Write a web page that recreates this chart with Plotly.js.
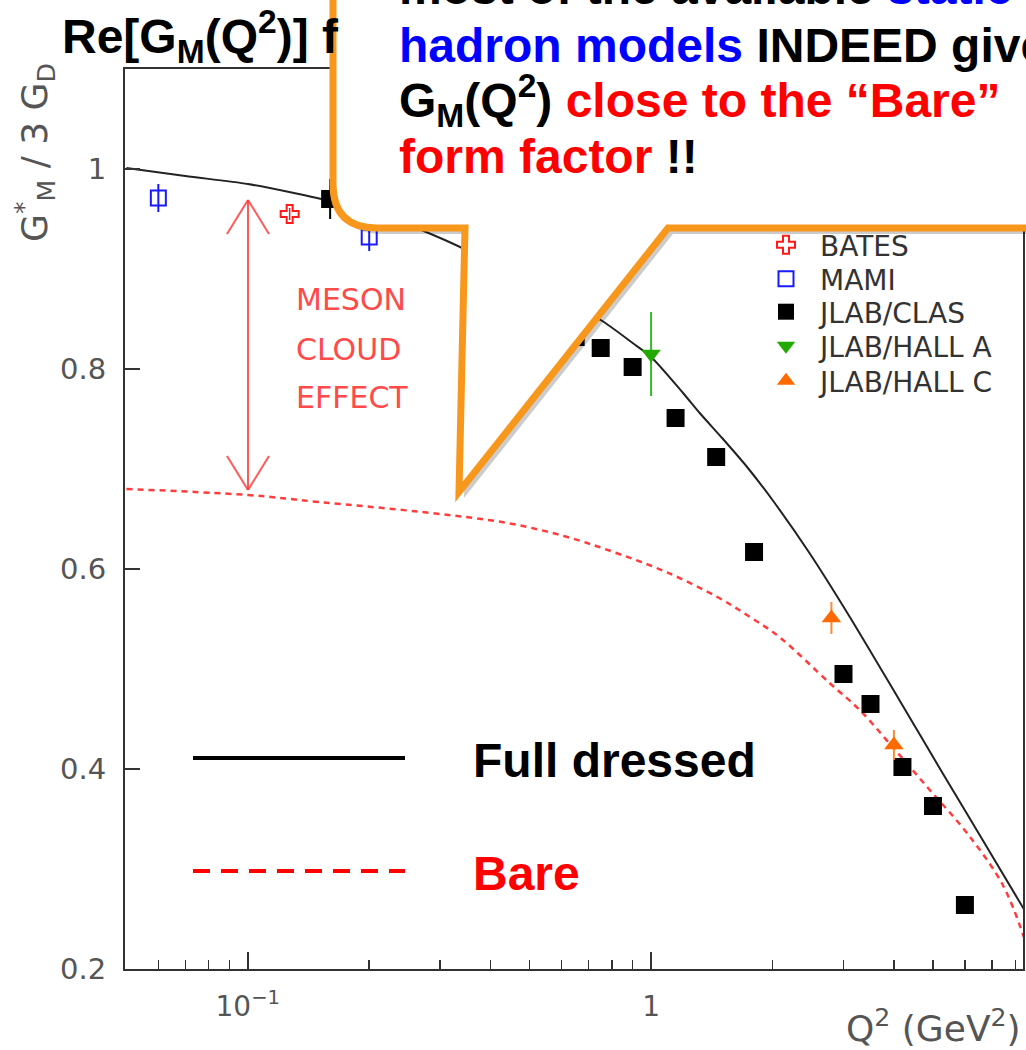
<!DOCTYPE html>
<html>
<head>
<meta charset="utf-8">
<script src="https://cdn.plot.ly/plotly-3.0.1.min.js"></script>
<style>html,body{margin:0;padding:0;background:#fff;}#chart{width:1026px;height:1050px;}</style>
</head>
<body>
<div id="chart"></div>
<script>
// ---- data ----
const fullQ2 = [0.05,0.07,0.1,0.13,0.16,0.2,0.25,0.3,0.34,0.4,0.5,0.6,0.75,0.9,1.0,1.2,1.32,1.5,1.73,2.0,2.47,3.11,4.14,5.28,6.64,8.4];
const fullG  = [1.001,0.993,0.985,0.976,0.968,0.957,0.944,0.931,0.921,0.907,0.886,0.869,0.849,0.826,0.812,0.776,0.756,0.731,0.702,0.669,0.616,0.552,0.468,0.396,0.329,0.260];

const bareQ2 = [0.05,0.1,0.15,0.27,0.44,0.62,0.82,1.09,1.46,1.76,2.08,2.77,3.29,3.97,4.91,6.07,7.45,8.4];
const bareG  = [0.680,0.674,0.667,0.657,0.646,0.632,0.616,0.597,0.572,0.552,0.532,0.486,0.459,0.422,0.379,0.336,0.284,0.232];

const batesQ2 = [0.127];
const batesG  = [0.955];
const batesErr = [0.006];

const mamiQ2 = [0.06, 0.2];
const mamiG  = [0.971, 0.932];
const mamiErr = [0.014, 0.014];

const clasQ2 = [0.16, 0.65, 0.75, 0.9, 1.15, 1.45, 1.8, 3.0, 3.5, 4.2, 5.0, 6.0];
const clasG  = [0.970, 0.832, 0.821, 0.802, 0.751, 0.712, 0.617, 0.495, 0.465, 0.402, 0.363, 0.264];
const clasErr = [0.02, 0.006, 0.006, 0.006, 0.006, 0.006, 0.006, 0.006, 0.006, 0.006, 0.006, 0.006];

const hallAQ2 = [1.0];
const hallAG  = [0.815];
const hallAErr = [0.042];

const hallCQ2 = [2.8, 4.0];
const hallCG  = [0.551, 0.424];
const hallCErr = [0.016, 0.015];

const yTickVals = [0.2, 0.4, 0.6, 0.8, 1];
const yTickText = ['0.2', '0.4', '0.6', '0.8', '1'];
const xTickVals = [0.1, 1];
const xTickText = ['10<sup>\u22121</sup>', '1'];
const xMinorVals = [0.06,0.07,0.08,0.09,0.2,0.3,0.4,0.5,0.6,0.7,0.8,0.9,2,3,4,5,6,7,8];

// ---- geometry helpers (pixel -> paper) ----
const Lm = 125, Rm = 1023, Tm = 69, Bm = 969;
const PW = Rm - Lm, PH = Bm - Tm;
const px = x => (x - Lm) / PW;
const py = y => (Bm - y) / PH;

const yAxisFont = {family: 'DejaVu Sans', size: 29, color: '#555'};
const xAxisFont = {family: 'DejaVu Sans', size: 28, color: '#555'};
const legFont = {family: 'DejaVu Sans', size: 28, color: '#333'};

const traces = [
  {x: fullQ2, y: fullG, mode: 'lines', line: {color: '#222', width: 2, shape: 'spline', smoothing: 0.8}, showlegend: false, hoverinfo: 'skip'},
  {x: bareQ2, y: bareG, mode: 'lines', line: {color: 'rgba(255,40,40,0.9)', width: 2.5, dash: '6px,5px', shape: 'spline'}, showlegend: false, hoverinfo: 'skip'},
  {x: batesQ2, y: batesG, name: 'BATES', mode: 'markers', legend: 'legend',
   marker: {symbol: 'cross-open', size: 15, color: '#ff1a1a', line: {width: 2, color: '#ff1a1a'}},
   error_y: {type: 'data', array: batesErr, width: 0, thickness: 1.5, color: '#ff1a1a'}},
  {x: mamiQ2, y: mamiG, name: 'MAMI', mode: 'markers', legend: 'legend2',
   marker: {symbol: 'square-open', size: 15, color: '#1a1aff', line: {width: 2, color: '#1a1aff'}},
   error_y: {type: 'data', array: mamiErr, width: 0, thickness: 2, color: '#1a1aff'}},
  {x: clasQ2, y: clasG, name: 'JLAB/CLAS', mode: 'markers', legend: 'legend3',
   marker: {symbol: 'square', size: 18, color: '#000'},
   error_y: {type: 'data', array: clasErr, width: 0, thickness: 2, color: '#000'}},
  {x: hallAQ2, y: hallAG, name: 'JLAB/HALL A', mode: 'markers', legend: 'legend4',
   marker: {symbol: 'triangle-down', size: 17, color: '#22aa00'},
   error_y: {type: 'data', array: hallAErr, width: 0, thickness: 2, color: '#33bb22'}},
  {x: hallCQ2, y: hallCG, name: 'JLAB/HALL C', mode: 'markers', legend: 'legend5',
   marker: {symbol: 'triangle-up', size: 17, color: '#ff6a00'},
   error_y: {type: 'data', array: hallCErr, width: 0, thickness: 2, color: '#ff8a30'}}
];

// callout balloon (pixel outline converted to paper)
function pathFrom(pts, dx, dy) {
  let s = '';
  pts.forEach((p, i) => {
    if (p[0] === 'Q') {
      s += ` Q ${px(p[1]+dx)},${py(p[2]+dy)} ${px(p[3]+dx)},${py(p[4]+dy)}`;
    } else {
      s += (i === 0 ? 'M ' : ' L ') + px(p[0]+dx) + ',' + py(p[1]+dy);
    }
  });
  return s + ' Z';
}
const balloon = [[333,-30],[333,184],['Q',333,228,377,228],[465,228],[459,492],[668,228],[1060,228],[1060,-30]];

const arrowLine = {color: 'rgba(255,60,60,0.85)', width: 2};
const shapes = [
  {type: 'path', xref: 'paper', yref: 'paper', layer: 'above', path: pathFrom(balloon, 5, 6),
   fillcolor: 'rgba(0,0,0,0.2)', line: {width: 0}},
  {type: 'path', xref: 'paper', yref: 'paper', layer: 'above', path: pathFrom(balloon, 0, 0),
   fillcolor: '#ffffff', line: {color: '#f7981d', width: 7}},
  // meson cloud double arrow
  {type: 'line', xref: 'paper', yref: 'paper', x0: px(248), x1: px(248), y0: py(200), y1: py(490), line: arrowLine},
  {type: 'line', xref: 'paper', yref: 'paper', x0: px(248), x1: px(227), y0: py(200), y1: py(234), line: arrowLine},
  {type: 'line', xref: 'paper', yref: 'paper', x0: px(248), x1: px(269), y0: py(200), y1: py(234), line: arrowLine},
  {type: 'line', xref: 'paper', yref: 'paper', x0: px(248), x1: px(227), y0: py(490), y1: py(456), line: arrowLine},
  {type: 'line', xref: 'paper', yref: 'paper', x0: px(248), x1: px(269), y0: py(490), y1: py(456), line: arrowLine},
  // slide legend lines
  {type: 'line', xref: 'paper', yref: 'paper', x0: px(193), x1: px(405), y0: py(758), y1: py(758), line: {color: '#000', width: 4}},
  {type: 'line', xref: 'paper', yref: 'paper', x0: px(193), x1: px(405), y0: py(871), y1: py(871), line: {color: '#ff0000', width: 4, dash: '17px,11px'}}
];

const boldF = (size, color) => ({family: 'Liberation Sans, Arial, sans-serif', size: size, color: color, weight: 'bold'});
const mesonF = {family: 'DejaVu Sans', size: 30, color: '#ff4a4a'};

const annotations = [
  // y-axis title
  {xref: 'paper', yref: 'paper', x: px(35), y: py(153), xanchor: 'center', yanchor: 'middle', textangle: -90, showarrow: false,
   text: 'G<sup>*</sup><sub>M</sub> / 3 G<sub>D</sub>', font: {family: 'DejaVu Sans', size: 36, color: '#555'}},
  // x-axis title
  {xref: 'paper', yref: 'paper', x: px(1023), y: py(1026), xanchor: 'right', yanchor: 'middle', showarrow: false,
   text: 'Q<sup>2</sup> (GeV<sup>2</sup>)', font: {family: 'DejaVu Sans', size: 36, color: '#555'}},
  // meson cloud effect
  {xref: 'paper', yref: 'paper', x: px(294), y: py(299), xanchor: 'left', yanchor: 'middle', showarrow: false, text: 'MESON', font: mesonF},
  {xref: 'paper', yref: 'paper', x: px(294), y: py(349), xanchor: 'left', yanchor: 'middle', showarrow: false, text: 'CLOUD', font: mesonF},
  {xref: 'paper', yref: 'paper', x: px(294), y: py(398), xanchor: 'left', yanchor: 'middle', showarrow: false, text: 'EFFECT', font: mesonF},
  // slide legend text
  {xref: 'paper', yref: 'paper', x: px(471), y: py(760), xanchor: 'left', yanchor: 'middle', showarrow: false, text: 'Full dressed', font: boldF(48, '#000')},
  {xref: 'paper', yref: 'paper', x: px(471), y: py(873), xanchor: 'left', yanchor: 'middle', showarrow: false, text: 'Bare', font: boldF(48, '#ff0000')},
  // callout text
  {xref: 'paper', yref: 'paper', x: px(397), y: py(-12), xanchor: 'left', yanchor: 'middle', showarrow: false,
   text: 'most of the available <span style="color:#0000ff">static</span>', font: boldF(48, '#000')},
  {xref: 'paper', yref: 'paper', x: px(397), y: py(45), xanchor: 'left', yanchor: 'middle', showarrow: false,
   text: '<span style="color:#0000ff">hadron models</span> INDEED give', font: boldF(48, '#000')},
  {xref: 'paper', yref: 'paper', x: px(397), y: py(100), xanchor: 'left', yanchor: 'middle', showarrow: false,
   text: 'G<sub>M</sub>(Q<sup>2</sup>) <span style="color:#ff0000">close to the \u201cBare\u201d</span>', font: boldF(48, '#000')},
  {xref: 'paper', yref: 'paper', x: px(397), y: py(157), xanchor: 'left', yanchor: 'middle', showarrow: false,
   text: '<span style="color:#ff0000">form factor</span> !!', font: boldF(48, '#000')}
];

function legAt(yc) {
  return {x: px(752), y: py(yc), xanchor: 'left', yanchor: 'middle', xref: 'paper', yref: 'paper',
          bgcolor: 'rgba(0,0,0,0)', borderwidth: 0, font: legFont, itemwidth: 58};
}

const layout = {
  width: 1026, height: 1050,
  margin: {l: Lm, r: 1026 - Rm, t: Tm, b: 1050 - Bm, pad: 0},
  paper_bgcolor: '#fff', plot_bgcolor: '#fff',
  title: {text: '<b>Re[G<sub>M</sub>(Q<sup>2</sup>)] f</b>', font: {family: 'Liberation Sans, Arial, sans-serif', size: 48, color: '#000'},
          x: 62 / 1026, xanchor: 'left', xref: 'container', y: 1 - 36 / 1050, yanchor: 'middle', yref: 'container'},
  xaxis: {type: 'log', range: [Math.log10(0.0496), Math.log10(8.36)], showgrid: false, zeroline: false,
          showline: true, linecolor: '#333', linewidth: 2, mirror: true,
          ticks: 'inside', ticklen: 17, tickwidth: 1.5, tickcolor: '#333',
          tickmode: 'array', tickvals: xTickVals, ticktext: xTickText, tickfont: xAxisFont, ticklabelstandoff: 11,
          minor: {tickmode: 'array', tickvals: xMinorVals, ticks: 'inside', ticklen: 9, tickwidth: 1.5, tickcolor: '#333', showgrid: false}},
  yaxis: {range: [0.2, 1.1], showgrid: false, zeroline: false,
          showline: true, linecolor: '#333', linewidth: 2, mirror: true,
          ticks: 'inside', ticklen: 15, tickwidth: 1.5, tickcolor: '#333',
          tickmode: 'array', tickvals: yTickVals, ticktext: yTickText, tickfont: yAxisFont, ticklabelstandoff: 11},
  showlegend: true,
  legend: legAt(245),
  legend2: legAt(279),
  legend3: legAt(312),
  legend4: legAt(346),
  legend5: legAt(381),
  shapes: shapes,
  annotations: annotations
};

Plotly.newPlot('chart', traces, layout, {displayModeBar: false, staticPlot: true});
</script>
</body>
</html>
